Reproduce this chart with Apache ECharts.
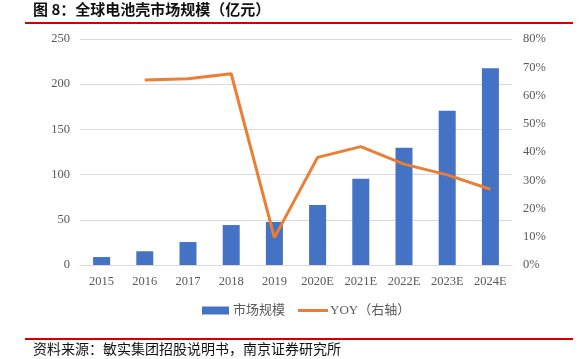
<!DOCTYPE html>
<html>
<head>
<meta charset="utf-8">
<script src="https://cdn.jsdelivr.net/npm/echarts@6/dist/echarts.min.js"></script>
<style>html,body{margin:0;padding:0;background:#fff;}#c{width:582px;height:359px;}</style>
</head>
<body>
<div id="c"></div>
<script>
var categories = ['2015','2016','2017','2018','2019','2020E','2021E','2022E','2023E','2024E'];
var marketSize = [8.8, 15.2, 25.4, 44.2, 47.6, 66.4, 95.5, 129.8, 170.7, 217.6];
var yoy = [null, 65.5, 65.9, 67.7, 9.7, 38.1, 41.9, 35.7, 31.9, 26.8];
var leftTicks = [0, 50, 100, 150, 200, 250];
var rightTicks = [0, 10, 20, 30, 40, 50, 60, 70, 80];

var serif = '"Liberation Serif", "Times New Roman", "Noto Sans CJK SC", serif';
var chart = echarts.init(document.getElementById('c'));
chart.setOption({
  animation: false,
  title: {
    text: '图 8：全球电池壳市场规模（亿元）',
    left: 33, top: 2, padding: 0,
    textStyle: {fontSize: 15, fontWeight: 'bold', color: '#111', fontFamily: '"Noto Sans CJK SC", sans-serif'}
  },
  graphic: [
    {type: 'rect', shape: {x: 25, y: 22, width: 548, height: 2}, style: {fill: '#d40000'}},
    {type: 'rect', shape: {x: 25, y: 338, width: 548, height: 2}, style: {fill: '#d40000'}},
    {type: 'text', left: 33, top: 342, style: {text: '资料来源：敏实集团招股说明书，南京证券研究所', fontSize: 14, fill: '#111', fontFamily: '"Noto Sans CJK SC", sans-serif'}}
  ],
  legend: [
    {
      left: 197, top: 299,
      itemWidth: 27, itemHeight: 8, itemGap: 4,
      textStyle: {fontSize: 13, color: '#595959', fontFamily: serif, padding: [0, 0, 0, -1]},
      data: [{name: '市场规模', icon: 'rect'}]
    },
    {
      left: 293, top: 299,
      itemWidth: 30, itemHeight: 3,
      textStyle: {fontSize: 13, color: '#595959', fontFamily: serif, padding: [0, 0, 0, -3]},
      data: [{name: 'YOY（右轴）', icon: 'rect'}]
    }
  ],
  grid: {left: 80, right: 70, top: 39, bottom: 94},
  xAxis: {
    type: 'category',
    data: categories,
    axisTick: {show: false},
    axisLine: {lineStyle: {color: '#d9d9d9'}},
    axisLabel: {fontSize: 12.5, color: '#595959', fontFamily: serif, margin: 10, interval: 0}
  },
  yAxis: [
    {
      type: 'value', min: leftTicks[0], max: leftTicks[leftTicks.length-1], interval: 50,
      axisLine: {show: false}, axisTick: {show: false},
      splitLine: {lineStyle: {color: '#d9d9d9'}},
      axisLabel: {fontSize: 12.5, color: '#595959', fontFamily: serif, margin: 10}
    },
    {
      type: 'value', min: rightTicks[0], max: rightTicks[rightTicks.length-1], interval: 10,
      axisLine: {show: false}, axisTick: {show: false},
      splitLine: {show: false},
      axisLabel: {fontSize: 12.5, color: '#595959', fontFamily: serif, margin: 11, formatter: '{value}%'}
    }
  ],
  series: [
    {name: '市场规模', type: 'bar', data: marketSize, barWidth: 17, itemStyle: {color: '#4472C4'}},
    {name: 'YOY（右轴）', type: 'line', yAxisIndex: 1, data: yoy, symbol: 'none', lineStyle: {color: '#ED7D31', width: 3}, itemStyle: {color: '#ED7D31'}}
  ]
});
</script>
</body>
</html>
